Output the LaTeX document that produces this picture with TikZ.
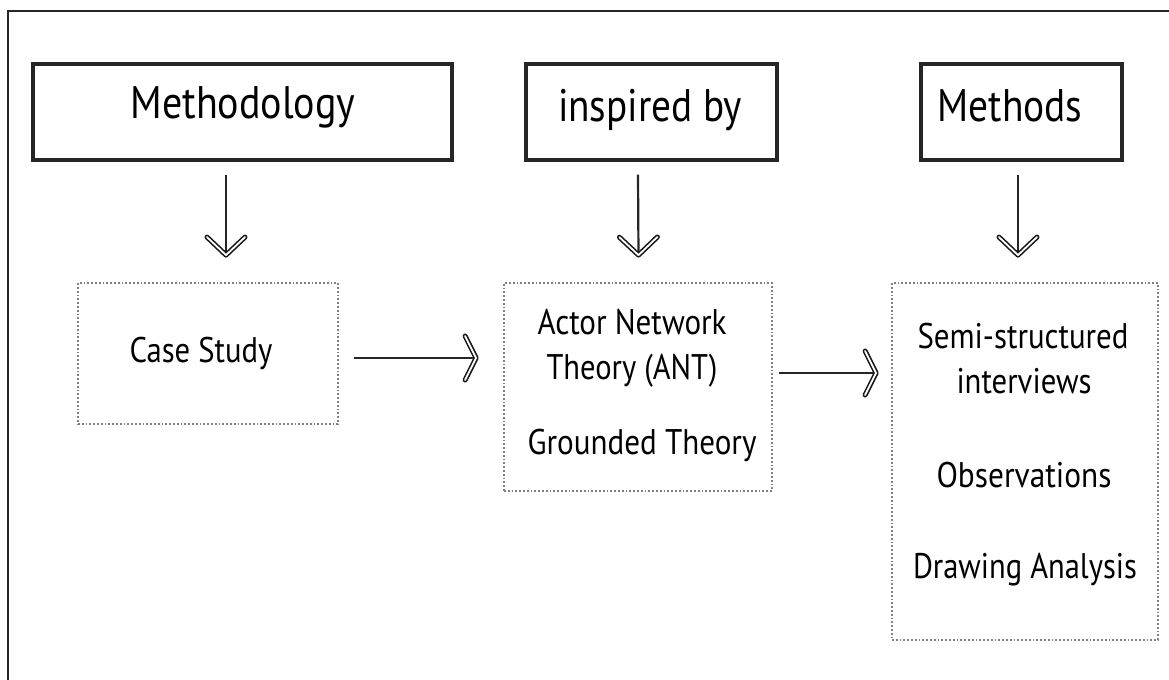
\documentclass[tikz,border=0pt]{standalone}
\usepackage{fontspec}
\usepackage{graphicx}
\setmainfont{PT Sans}
\usetikzlibrary{decorations.markings}

% squeeze a label horizontally to a given width, keeping its height
\newcommand{\fitw}[2]{\resizebox{#1}{\height}{#2}}

\begin{document}
\begin{tikzpicture}[x=0.5pt,y=-0.5pt,
  frame/.style={line width=1.4pt, draw=black!85},
  headbox/.style={draw=black!85, line width=1.7pt, rectangle, inner sep=0pt, minimum height=48pt},
  dotbox/.style={draw=black!50, densely dotted, line width=0.9pt, rectangle, inner sep=0pt},
  bigtext/.style={inner sep=0pt, anchor=base, font=\fontsize{22.8}{26}\selectfont},
  smalltext/.style={inner sep=0pt, anchor=base, font=\fontsize{17.8}{21}\selectfont},
  barb/.style={line width=0.8pt, draw=black!90, double=white, double distance=0.9pt, line cap=round, line join=round},
  vconn/.style={line width=1.1pt, draw=black!85, postaction={decorate},
    decoration={markings, mark=at position 1 with {\draw[barb] (-9pt,-9.5pt) -- (0,0) -- (-9pt,9.5pt);}}},
  hconn/.style={line width=1pt, draw=black!85, postaction={decorate},
    decoration={markings, mark=at position 1 with {\draw[barb] (-5.5pt,-11pt) -- (0,0) -- (-5.5pt,11pt);}}}
]
\useasboundingbox (0,0) rectangle (1169,680);

% outer frame (runs off the right and bottom edges)
\draw[frame] (1175,11) -- (8,11) -- (8,686);

% headings
\node[headbox, minimum width=209.5pt] (hm) at (242.5,112) {};
\node[headbox, minimum width=125.5pt] (hi) at (651.5,112) {};
\node[headbox, minimum width=100.5pt] (hs) at (1021.5,112) {};
\node[bigtext] (thm) at (243,118) {\fitw{112.5pt}{Methodology}};
\node[bigtext] (thi) at (650,121) {\fitw{92pt}{inspired by}};
\node[bigtext] (ths) at (1010,121) {\fitw{72.5pt}{Methods}};

% content boxes
\node[dotbox, minimum width=130pt, minimum height=70.5pt] (cs) at (208,353.5) {};
\node[dotbox, minimum width=134pt, minimum height=104pt] (ant) at (638,387) {};
\node[dotbox, minimum width=133pt, minimum height=178.5pt] (me) at (1025,461.5) {};

\node[smalltext] (tcs) at (201,362) {\fitw{71.5pt}{Case Study}};
\node[smalltext] (ta1) at (632,334) {\fitw{94.5pt}{Actor Network}};
\node[smalltext] (ta2) at (632,379) {\fitw{85.5pt}{Theory (ANT)}};
\node[smalltext] (ta3) at (642,454) {\fitw{114.5pt}{Grounded Theory}};
\node[smalltext] (tm1) at (1023,348) {\fitw{105.5pt}{Semi-structured}};
\node[smalltext] (tm2) at (1024,393) {\fitw{67.5pt}{interviews}};
\node[smalltext] (tm3) at (1024,487) {\fitw{87.5pt}{Observations}};
\node[smalltext] (tm4) at (1025,578) {\fitw{112pt}{Drawing Analysis}};

% vertical connectors
\draw[vconn] ([shift={(-16.5,13)}]hm.south) -- ([shift={(18,-27)}]cs.north);
\draw[vconn] ([shift={(-13.5,13)}]hi.south) -- ([shift={(0.5,-27)}]ant.north);
\draw[vconn] ([shift={(-3.5,13)}]hs.south) -- ([shift={(-7,-27)}]me.north);

% horizontal connectors
\draw[hconn] ([shift={(15,4.5)}]cs.east) -- ([shift={(-27,-29)}]ant.west);
\draw[hconn] ([shift={(6,-14)}]ant.east) -- ([shift={(-15,-88.5)}]me.west);
\end{tikzpicture}
\end{document}
